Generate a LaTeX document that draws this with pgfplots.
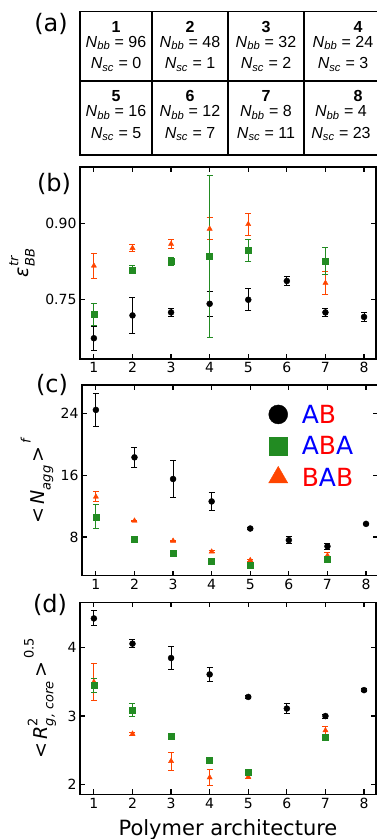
\documentclass[border=0pt]{standalone}
\usepackage{fontspec}
\setmainfont{DejaVu Sans}
\newfontfamily\arialf{Liberation Sans}
\usepackage{pgfplots}
\pgfplotsset{compat=1.18}
\definecolor{cab}{HTML}{000000}
\definecolor{caba}{HTML}{228B22}
\definecolor{cbab}{HTML}{FF4500}
\newcommand\tabfont{\arialf\fontsize{16bp}{18bp}\selectfont}
\newcommand\supsub[2]{\makebox[0pt][l]{\raisebox{0.55em}{\fontsize{13bp}{13bp}\selectfont #1}}\raisebox{-0.3em}{\fontsize{13bp}{13bp}\selectfont #2}}
\pgfplotsset{
  panel/.style={
    scale only axis, width=296bp, height=192bp,
    xmin=0.64, xmax=8.31,
    xtick={1,...,8},
    tick align=inside,
    major tick length=5bp,
    axis line style={line width=1.4bp},
    every tick/.style={black, line width=1.2bp},
    tick label style={font=\fontsize{14bp}{16bp}\selectfont},
    /pgf/number format/assume math mode=true,
    every axis y label/.style={rotate=90, anchor=center, font=\fontsize{19bp}{21bp}\selectfont},
  },
  eb/.style={only marks, mark size=3bp, #1, mark options={fill=#1, draw=#1},
    error bars/.cd, y dir=both, y explicit,
    error bar style={line width=1bp, #1},
    error mark options={rotate=90, mark size=3bp, line width=1bp, #1},
    /pgfplots/.cd},
}
\newcommand\cell[6]{%
  \node[anchor=base, font=\tabfont\bfseries, inner sep=0] at (#1,#3+20.5) {#4};
  \node[anchor=base, font=\tabfont, inner sep=0] at (#2,#3+35.5) {\textit{N}\textsubscript{\textit{bb}} = #5};
  \node[anchor=base, font=\tabfont, inner sep=0] at (#2,#3+57) {\textit{N}\textsubscript{\textit{sc}} = #6};
}
\begin{document}
\begin{tikzpicture}
\useasboundingbox (0,0) rectangle (377bp,-839bp);
\clip (0,0) rectangle (377bp,-839bp);
\begin{scope}[x=1bp,y=-1bp]
  \draw[line width=1.5bp] (80,11.7) rectangle (382,155);
  \draw[line width=1.5bp] (80,81) -- (382,81);
  \foreach \xx in {152,228,304} \draw[line width=1.5bp] (\xx,11.7) -- (\xx,155);
  \cell{116}{116}{11.7}{1}{96}{0}
  \cell{190}{190}{11.7}{2}{48}{1}
  \cell{266}{266}{11.7}{3}{32}{2}
  \cell{358}{343}{11.7}{4}{24}{3}
  \cell{116}{116}{81}{5}{16}{5}
  \cell{190}{190}{81}{6}{12}{7}
  \cell{266}{266}{81}{7}{8}{11}
  \cell{358}{341}{81}{8}{4}{23}
  \node[font=\fontsize{24bp}{26bp}\selectfont] at (51,24) {(a)};
  \node[font=\fontsize{24bp}{26bp}\selectfont] at (54,184) {(b)};
  \node[font=\fontsize{24bp}{26bp}\selectfont] at (52,385) {(c)};
  \node[font=\fontsize{24bp}{26bp}\selectfont] at (50,605) {(d)};
\end{scope}

% (b)
\begin{axis}[panel, at={(80bp,-359bp)}, anchor=south west,
  ymin=0.632, ymax=1.011, ytick={0.75,0.90},
  yticklabel style={/pgf/number format/.cd, fixed, fixed zerofill, precision=2},
  ylabel={\textit{ε}\supsub{\textit{tr}}{\textit{BB}}},
  every axis y label/.append style={at={(axis description cs:-0.196,0.5)}}]
\addplot[mark=*, eb=cab] table[x=x, y=y, y error=e] {
x y e
1 0.673 0.024
2 0.718 0.035
3 0.724 0.008
4 0.741 0.025
5 0.749 0.022
6 0.786 0.009
7 0.724 0.008
8 0.715 0.008
};
\addplot[mark=triangle*, eb=cbab] table[x=x, y=y, y error=e] {
x y e
1 0.816 0.025
2 0.851 0.007
3 0.859 0.008
4 0.889 0.022
5 0.898 0.022
7 0.782 0.022
};
\addplot[mark=square*, eb=caba] table[x=x, y=y, y error=e] {
x y e
1 0.720 0.022
2 0.808 0.008
3 0.825 0.008
4 0.834 0.160
5 0.846 0.021
7 0.825 0.027
};
\end{axis}

% (c)
\begin{axis}[panel, at={(82bp,-575.7bp)}, anchor=south west, height=190.7bp,
  ymin=3.0, ymax=27.65, ytick={8,16,24},
  ylabel={<\,\textit{N}\raisebox{-0.3em}{\fontsize{13bp}{13bp}\selectfont\textit{agg}}\,>\,\raisebox{0.75em}{\fontsize{13bp}{13bp}\selectfont\textit{f}}},
  every axis y label/.append style={at={(axis description cs:-0.152,0.5)}},
  legend style={at={(rel axis cs:0.62,0.915)}, anchor=north west, draw=none, fill=none,
    font=\fontsize{25bp}{27bp}\selectfont, row sep=9.5bp,
    nodes={inner sep=2bp, text height=18bp, text depth=0bp}},
  legend cell align=left]
\addplot[mark=*, forget plot, eb=cab] table[x=x, y=y, y error=e] {
x y e
1 24.43 2.15
2 18.3 1.3
3 15.5 2.4
4 12.6 1.15
5 9.1 0.1
6 7.6 0.5
7 6.8 0.4
8 9.7 0.1
};
\addplot[mark=triangle*, forget plot, eb=cbab] table[x=x, y=y, y error=e] {
x y e
1 13.2 0.65
2 10.1 0.1
3 7.5 0.1
4 6.1 0.1
5 5.0 0.1
7 5.6 0.4
};
\addplot[mark=square*, forget plot, eb=caba] table[x=x, y=y, y error=e] {
x y e
1 10.6 1.55
2 7.74 0.15
3 5.97 0.1
4 4.86 0.1
5 4.3 0.1
7 5.1 0.1
};
\addlegendimage{only marks, mark=*, cab, mark size=9.5bp}
\addlegendentry{\hspace*{12bp}\textcolor{blue}{A}\textcolor{red}{B}}
\addlegendimage{only marks, mark=square*, caba, mark size=9bp}
\addlegendentry{\hspace*{12bp}\textcolor{blue}{A}\textcolor{red}{B}\textcolor{blue}{A}}
\addlegendimage{only marks, mark=triangle*, cbab, mark size=11bp}
\addlegendentry{\hspace*{12bp}\textcolor{red}{B}\textcolor{blue}{A}\textcolor{red}{B}}
\end{axis}

% (d)
\begin{axis}[panel, at={(80bp,-794.3bp)}, anchor=south west,
  ymin=1.854, ymax=4.666, ytick={2,3,4},
  ylabel={<\,\textit{R}\supsub{2}{\textit{g, core}}\,>\,\raisebox{0.75em}{\fontsize{13bp}{13bp}\selectfont 0.5}},
  every axis y label/.append style={at={(axis description cs:-0.135,0.5)}},
  xlabel={Polymer architecture},
  every axis x label/.style={at={(axis description cs:0.5,0)}, anchor=base, yshift=-40.7bp, font=\fontsize{21bp}{23bp}\selectfont}]
\addplot[mark=*, eb=cab] table[x=x, y=y, y error=e] {
x y e
1 4.43 0.11
2 4.06 0.06
3 3.85 0.17
4 3.61 0.10
5 3.28 0.02
6 3.11 0.07
7 3.00 0.03
8 3.38 0.02
};
\addplot[mark=triangle*, eb=cbab] table[x=x, y=y, y error=e] {
x y e
1 3.50 0.27
2 2.74 0.02
3 2.34 0.13
4 2.10 0.12
5 2.11 0.02
7 2.79 0.06
};
\addplot[mark=square*, eb=caba] table[x=x, y=y, y error=e] {
x y e
1 3.45 0.10
2 3.09 0.10
3 2.70 0.02
4 2.36 0.02
5 2.18 0.02
7 2.69 0.04
};
\end{axis}
\end{tikzpicture}
\end{document}
